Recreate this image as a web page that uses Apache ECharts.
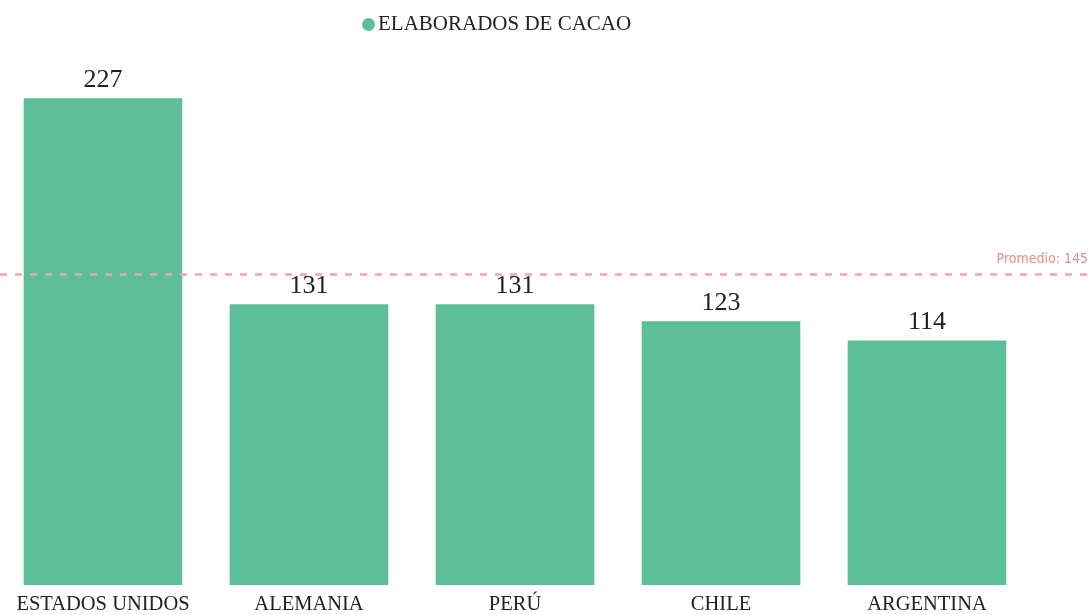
<!DOCTYPE html>
<html>
<head>
<meta charset="utf-8">
<script src="https://cdn.jsdelivr.net/npm/echarts@6/dist/echarts.min.js"></script>
<style>
  html, body { margin: 0; padding: 0; background: #fff; }
  #chart { width: 1091px; height: 615px; }
</style>
</head>
<body>
<div id="chart"></div>
<script>
const categories = ['ESTADOS UNIDOS', 'ALEMANIA', 'PERÚ', 'CHILE', 'ARGENTINA'];
const values = [227, 131, 131, 123, 114];
const seriesName = 'ELABORADOS DE CACAO';
const average = 145;

const myChart = echarts.init(document.getElementById('chart'));
const serif = '"Liberation Serif", "DejaVu Serif", serif';

const option = {
  animation: false,
  legend: {
    data: [seriesName],
    left: 357,
    top: 9,
    icon: 'circle',
    itemWidth: 13,
    itemHeight: 13,
    itemGap: 4,
    textStyle: { fontFamily: serif, fontSize: 21, color: '#222', padding: [0, 0, 0, -2] }
  },
  grid: [
    { left: 0, right: 61, top: 49, bottom: 30 },
    { left: 0, right: 0, top: 49, bottom: 30 }
  ],
  xAxis: [
    {
      type: 'category',
      gridIndex: 0,
      data: categories,
      axisLine: { show: false },
      axisTick: { show: false },
      axisLabel: { interval: 0, fontFamily: serif, fontSize: 20.5, color: '#222', margin: 9 }
    },
    { type: 'value', gridIndex: 1, show: false, min: 0, max: 1 }
  ],
  yAxis: [
    { type: 'value', gridIndex: 0, min: 0, max: 250, show: false, splitLine: { show: false } },
    { type: 'value', gridIndex: 1, min: 0, max: 250, show: false, splitLine: { show: false } }
  ],
  series: [
    {
      name: seriesName,
      type: 'bar',
      xAxisIndex: 0,
      yAxisIndex: 0,
      barWidth: '77%',
      itemStyle: { color: '#5dbe9a' },
      label: {
        show: true,
        position: 'top',
        distance: 5,
        fontFamily: serif,
        fontSize: 26,
        color: '#222'
      },
      data: values
    },
    {
      name: 'promedio',
      type: 'line',
      xAxisIndex: 1,
      yAxisIndex: 1,
      data: [],
      silent: true,
      markLine: {
        symbol: 'none',
        silent: true,
        lineStyle: { color: '#f0a5a5', type: [7, 8], width: 2.5 },
        label: {
          position: 'insideEndTop',
          formatter: 'Promedio: {c}',
          fontFamily: '"DejaVu Sans Condensed", "DejaVu Sans", sans-serif',
          fontSize: 14,
          color: '#e58f8f',
          distance: [3, 8]
        },
        data: [{ yAxis: average }]
      }
    }
  ]
};

myChart.setOption(option);
</script>
</body>
</html>
